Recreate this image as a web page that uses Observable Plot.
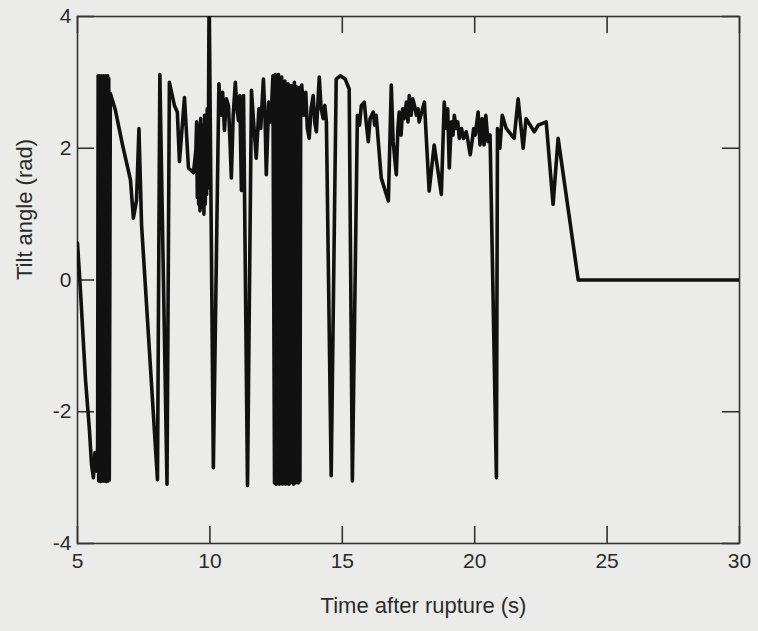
<!DOCTYPE html>
<html>
<head>
<meta charset="utf-8">
<script src="https://cdn.jsdelivr.net/npm/d3@7"></script>
<script src="https://cdn.jsdelivr.net/npm/@observablehq/plot@0.6"></script>
<style>
  html, body { margin: 0; padding: 0; background: #ebebea; }
  #chart { width: 758px; height: 631px; }
</style>
</head>
<body>
<div id="chart"></div>
<script>
// Time after rupture (s)
const time = [
  5.00, 5.11, 5.30, 5.45, 5.53, 5.60, 5.66, 5.71, 5.76,
  5.78, 5.80, 5.82, 5.84, 5.86, 5.88, 5.90, 5.92, 5.94, 5.96, 5.98, 6.00, 6.02,
  6.04, 6.06, 6.08, 6.10, 6.12, 6.14, 6.16, 6.18, 6.20,
  6.24, 6.43, 6.70, 7.00, 7.11, 7.23, 7.32, 7.42, 8.02, 8.11, 8.38, 8.47,
  8.66, 8.77, 8.85, 9.04, 9.19, 9.38, 9.47,
  9.50, 9.525, 9.55, 9.575, 9.60, 9.625, 9.65, 9.675, 9.70, 9.725,
  9.75, 9.775, 9.80, 9.825, 9.85, 9.875, 9.90, 9.925, 9.95,
  9.97, 10.13, 10.34, 10.42, 10.48, 10.55, 10.62, 10.70, 10.76, 10.81,
  10.88, 10.96, 11.02, 11.08, 11.13, 11.19, 11.27,
  11.42, 11.57, 11.65, 11.75, 11.85, 11.92, 12.02, 12.08, 12.13, 12.22, 12.30, 12.38,
  12.44, 12.47, 12.50, 12.53, 12.56, 12.59, 12.62, 12.65, 12.68, 12.71,
  12.74, 12.77, 12.80, 12.83, 12.86, 12.89, 12.92, 12.95, 12.98, 13.01,
  13.04, 13.07, 13.10, 13.13, 13.16, 13.19, 13.22, 13.25, 13.28, 13.31,
  13.34, 13.37, 13.40, 13.43,
  13.47, 13.55, 13.62, 13.68, 13.75, 13.82, 13.90, 13.96, 14.02, 14.08,
  14.13, 14.20, 14.28, 14.34, 14.40, 14.58, 14.77, 14.92, 15.11, 15.26,
  15.38, 15.57, 15.65, 15.72, 15.83, 15.90, 15.98, 16.05, 16.17, 16.22,
  16.28, 16.47, 16.74, 16.85, 16.92, 17.04, 17.10, 17.15, 17.22, 17.28,
  17.34, 17.42, 17.48, 17.53, 17.60, 17.66, 17.72, 17.80, 17.86, 17.90,
  18.00, 18.10, 18.28, 18.47, 18.74, 18.85, 18.92, 18.98, 19.04, 19.12,
  19.18, 19.23, 19.30, 19.36, 19.42, 19.50, 19.58, 19.68, 19.75, 19.83,
  19.90, 19.96, 20.02, 20.13, 20.20, 20.28, 20.35, 20.42, 20.50, 20.58,
  20.82, 20.86, 20.95, 21.04, 21.19, 21.49, 21.64, 21.83, 21.94, 22.25,
  22.40, 22.70, 22.96, 23.15, 23.91, 30.00
];
// Tilt angle (rad)
const angle = [
  0.56, -0.15, -1.50, -2.27, -2.80, -3.00, -2.62, -2.90, -2.55,
  3.10, -3.05, 3.10, -3.00, 3.08, -3.06, 3.10, -3.02, 3.06, -3.05, 3.10, -3.04, 3.08,
  -3.05, 3.10, -3.06, 3.08, -3.02, 3.10, -3.05, 3.06, -3.04,
  2.83, 2.58, 2.05, 1.52, 0.94, 1.21, 2.30, 0.83, -3.03, 3.12, -3.10, 3.00,
  2.65, 2.55, 1.80, 2.77, 1.70, 1.63, 1.97,
  2.40, 1.25, 2.35, 1.15, 2.30, 1.05, 2.45, 1.10, 2.20, 1.20,
  2.35, 1.00, 2.50, 1.15, 2.45, 1.30, 2.60, 1.40, 2.70,
  4.40, -2.85, 2.98, 2.50, 2.85, 2.27, 2.75, 2.65, 2.10, 1.55,
  2.50, 3.00, 2.60, 2.42, 2.80, 1.36, 2.80,
  -3.12, 2.88, 2.40, 1.85, 2.60, 2.30, 3.05, 2.50, 1.60, 2.70, 2.40, 3.10,
  -3.08, 3.12, -3.10, 3.05, -3.07, 3.12, -3.10, 3.00, -3.06, 3.08,
  -3.10, 2.95, -3.08, 3.02, -3.10, 2.92, -3.06, 2.98, -3.10, 2.90,
  -3.08, 2.95, -3.06, 2.88, -3.10, 3.00, -3.08, 2.94, -3.06, 2.90,
  -3.08, 2.92, -3.05, 2.90,
  2.96, 2.50, 2.85, 2.30, 2.15, 2.60, 2.80, 2.40, 2.25, 2.70,
  3.08, 2.60, 2.45, 2.65, 2.40, -2.97, 3.05, 3.10, 3.05, 2.90,
  -3.05, 2.50, 2.35, 2.65, 2.70, 2.40, 2.10, 2.45, 2.55, 2.35,
  2.50, 1.55, 1.20, 2.96, 2.10, 1.60, 2.30, 2.55, 2.20, 2.60,
  2.45, 2.70, 2.40, 2.80, 2.50, 2.75, 2.66, 2.50, 2.60, 2.40,
  2.55, 2.70, 1.35, 2.05, 1.30, 2.70, 2.30, 2.60, 1.70, 2.40,
  2.20, 2.50, 2.30, 2.40, 2.15, 2.30, 2.15, 2.25, 2.10, 1.90,
  2.10, 2.30, 2.20, 2.55, 2.05, 2.45, 2.05, 2.50, 2.10, 2.20,
  -3.00, 2.30, 2.00, 2.50, 2.30, 2.15, 2.75, 2.00, 2.45, 2.25,
  2.35, 2.40, 1.15, 2.15, 0.00, 0.00
];
const xTicks = [5, 10, 15, 20, 25, 30];
const yTicks = [-4, -2, 0, 2, 4];
const xLabel = "Time after rupture (s)";
const yLabel = "Tilt angle (rad)";

const data = time.map((t, i) => ({t, a: angle[i]}));

const W = 758, H = 631;
const mL = 77, mR = 19, mT = 16, mB = 88;
const fw = W - mL - mR, fh = H - mT - mB;
const tick = 17;
const ink = "#2b2b2b";
const fmt = d => String(d);

const chart = Plot.plot({
  width: W,
  height: H,
  marginLeft: mL,
  marginRight: mR,
  marginTop: mT,
  marginBottom: mB,
  style: {background: "#ebebea", fontFamily: "'Liberation Sans', Arial, Helvetica, sans-serif", color: ink},
  x: {domain: [5, 30]},
  y: {domain: [-4, 4]},
  marks: [
    Plot.frame({stroke: "#333", strokeWidth: 1.6}),
    Plot.tickX(xTicks, {x: d => d, insetTop: fh - tick, stroke: "#333", strokeWidth: 1.6}),
    Plot.tickX(xTicks, {x: d => d, insetBottom: fh - tick, stroke: "#333", strokeWidth: 1.6}),
    Plot.tickY(yTicks, {y: d => d, insetRight: fw - tick, stroke: "#333", strokeWidth: 1.6}),
    Plot.tickY(yTicks, {y: d => d, insetLeft: fw - tick, stroke: "#333", strokeWidth: 1.6}),
    Plot.axisX(xTicks, {anchor: "bottom", tickSize: 0, tickPadding: 10, fontSize: 21, label: null, fill: ink, tickFormat: fmt}),
    Plot.axisY(yTicks, {anchor: "left", tickSize: 0, tickPadding: 6, fontSize: 21, label: null, fill: ink, tickFormat: fmt}),
    Plot.line(data, {x: "t", y: "a", stroke: "#111", strokeWidth: 3.6, strokeLinejoin: "round", strokeLinecap: "round", clip: true}),
    Plot.text([xLabel], {text: d => d, frameAnchor: "bottom", dx: 15, dy: 69, fontSize: 22, fill: ink}),
    Plot.text([yLabel], {text: d => d, frameAnchor: "left", dx: -53, rotate: -90, fontSize: 22, fill: ink})
  ]
});
document.getElementById("chart").appendChild(chart);
</script>
</body>
</html>
